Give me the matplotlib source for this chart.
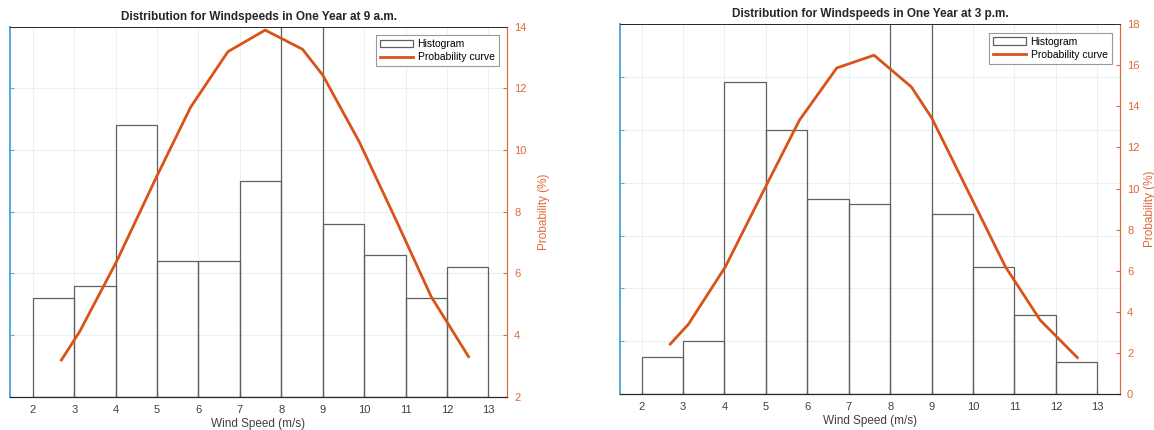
import numpy as np
import matplotlib
matplotlib.use("Agg")
import matplotlib.pyplot as plt
from matplotlib.patches import Patch
from matplotlib.lines import Line2D

plt.rcParams['font.family'] = ['Liberation Sans', 'DejaVu Sans']

# wind speed bins (m/s)
bin_edges = [2, 3, 4, 5, 6, 7, 8, 9, 10, 11, 12, 13]

# days per bin
counts_9am = [16, 18, 44, 22, 22, 35, 120, 28, 23, 16, 21]
counts_3pm = [7, 10, 59, 50, 37, 36, 87, 34, 24, 15, 6]

# fitted probability curve (%)
curve_x = [2.69, 3.13, 4.02, 4.99, 5.81, 6.71, 7.61, 8.51, 9.0, 9.88, 10.78, 11.62, 12.52]
prob_9am = [3.19, 4.11, 6.38, 9.14, 11.39, 13.19, 13.89, 13.27, 12.43, 10.27, 7.7, 5.24, 3.30]
prob_3pm = [2.43, 3.40, 6.19, 10.08, 13.33, 15.87, 16.49, 14.95, 13.45, 9.87, 6.2, 3.6, 1.77]

titles = ['Distribution for Windspeeds in One Year at 9 a.m.',
          'Distribution for Windspeeds in One Year at 3 p.m.']

BLUE = '#5AAAE0'
ORANGE = '#D95319'
ORANGE_TXT = '#E0693A'
DARK = '#262626'
GRID = '#EBF0F5'


def panel(fig, rect, counts, prob, title, left_lim, left_step, right_lim, right_step, xlim, ypad):
    ax = fig.add_axes(rect)
    ax2 = ax.twinx()

    ax.set_axisbelow(True)
    ax.bar(bin_edges[:-1], counts, width=1, align='edge', fill=False,
           edgecolor='#606060', linewidth=0.9, zorder=2)
    ax.set_xlim(*xlim)
    ax.set_ylim(*left_lim)
    ax.set_yticks(np.arange(left_lim[0], left_lim[1] + 0.1, left_step))
    ax.set_yticklabels([])
    ax.set_xticks(bin_edges)
    ax.grid(True, color=GRID, linewidth=0.8)

    ax2.plot(curve_x, prob, color=ORANGE, linewidth=2.0)
    ax2.set_ylim(*right_lim)
    ax2.set_yticks(np.arange(right_lim[0], right_lim[1] + 0.1, right_step))
    ax2.set_ylabel('Probability (%)', color=ORANGE_TXT, fontsize=8.5, labelpad=ypad)

    for a in (ax, ax2):
        a.spines['top'].set_color(DARK)
        a.spines['top'].set_linewidth(0.6)
        a.spines['bottom'].set_color(DARK)
        a.spines['bottom'].set_linewidth(0.8)
        a.spines['left'].set_color(BLUE)
        a.spines['left'].set_linewidth(1.4)
        a.spines['right'].set_color(ORANGE_TXT)
        a.spines['right'].set_linewidth(0.8)

    ax.tick_params(axis='x', direction='in', length=3, labelsize=8,
                   colors=DARK, labelcolor='#404040', pad=6)
    ax.tick_params(axis='y', direction='in', length=3, colors=BLUE)
    ax2.tick_params(axis='y', direction='in', length=3, colors=ORANGE_TXT,
                    labelsize=8, pad=5)

    ax.set_xlabel('Wind Speed (m/s)', fontsize=8.5, color='#404040', labelpad=2)
    ax.set_title(title, fontsize=8.5, fontweight='bold', color=DARK, pad=5)

    handles = [Patch(facecolor='white', edgecolor='#606060', linewidth=0.9),
               Line2D([], [], color=ORANGE, linewidth=2.0)]
    leg = ax2.legend(handles, ['Histogram', 'Probability curve'], loc='upper right',
                     fontsize=7.5, fancybox=False, framealpha=1, edgecolor='#9a9a9a',
                     borderaxespad=0.8, handlelength=3.2, handletextpad=0.4,
                     borderpad=0.4, labelspacing=0.3)
    leg.get_frame().set_linewidth(0.8)
    return ax, ax2


fig = plt.figure(figsize=(11.54, 4.30), dpi=100)
panel(fig, [0.0087, 0.0774, 0.4307, 0.8605], counts_9am, prob_9am, titles[0],
      (0, 60), 10, (2, 14), 2, (1.45, 13.45), 8)
panel(fig, [0.537, 0.0837, 0.4336, 0.860], counts_3pm, prob_3pm, titles[1],
      (0, 70), 10, (0, 18), 2, (1.47, 13.55), 3)

fig.savefig('out.png', dpi=100)
